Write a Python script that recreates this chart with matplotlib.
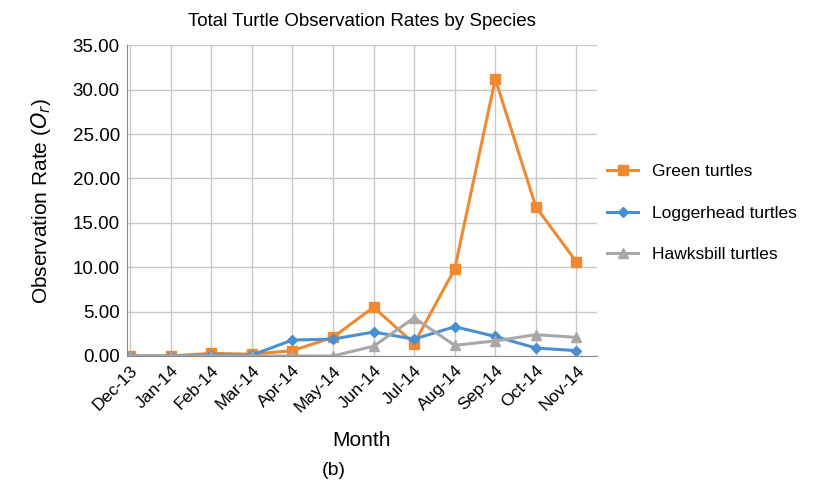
import matplotlib.pyplot as plt

plt.rcParams['font.family'] = ['Liberation Sans', 'DejaVu Sans']

months = ["Dec-13", "Jan-14", "Feb-14", "Mar-14", "Apr-14", "May-14",
          "Jun-14", "Jul-14", "Aug-14", "Sep-14", "Oct-14", "Nov-14"]
green = [0, 0, 0.3, 0.2, 0.6, 2.1, 5.5, 1.4, 9.8, 31.2, 16.8, 10.6]
logger = [0, 0, 0.1, 0.1, 1.8, 1.9, 2.7, 1.9, 3.3, 2.2, 0.9, 0.6]
hawks = [0, 0, 0, 0, 0, 0, 1.1, 4.3, 1.2, 1.7, 2.4, 2.1]

fig = plt.figure(figsize=(8.13, 4.87), dpi=100)
ax = fig.add_axes([0.156, 0.269, 0.578, 0.638])
x = range(len(months))
ax.plot(x, green, "-s", color="#f08a30", lw=2.2, ms=7, label="Green turtles")
ax.plot(x, logger, "-D", color="#4a90d0", lw=2.2, ms=5, label="Loggerhead turtles")
ax.plot(x, hawks, "-^", color="#a8a8a8", lw=2.2, ms=7, label="Hawksbill turtles")

ax.set_ylim(0, 35)
ax.set_xlim(-0.08, 11.5)
ax.set_yticks(range(0, 36, 5))
ax.set_yticklabels([f"{v:.2f}" for v in range(0, 36, 5)], fontsize=13.5)
ax.set_xticks(list(x))
ax.set_xticklabels(months, rotation=45, ha="right", rotation_mode="anchor", fontsize=12.5)
ax.grid(axis="both", color="#c8c8c8", lw=1)
ax.set_axisbelow(True)
for s in ["top", "right"]:
    ax.spines[s].set_visible(False)
ax.spines["left"].set_color("#888888")
ax.spines["bottom"].set_color("#888888")
ax.tick_params(length=0, pad=5)

ax.set_title("Total Turtle Observation Rates by Species", fontsize=13.5, pad=14)
ax.set_xlabel("Month", fontsize=15, labelpad=12)
ax.set_ylabel("Observation Rate ($O_r$)", fontsize=15, labelpad=14)
ax.legend(loc="center left", bbox_to_anchor=(1.0, 0.46), frameon=False,
          fontsize=12.5, labelspacing=1.5, handlelength=1.8, borderaxespad=0.2)
fig.text(0.41, 0.025, "(b)", fontsize=14, ha="center")

fig.savefig("out.png")
